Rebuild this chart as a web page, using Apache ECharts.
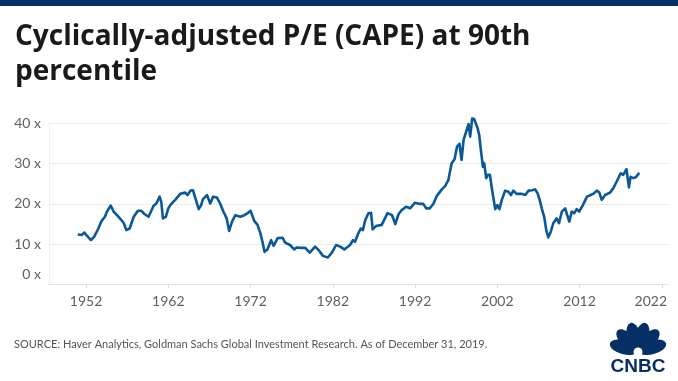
<!DOCTYPE html>
<html>
<head>
<meta charset="utf-8">
<script src="https://cdn.jsdelivr.net/npm/echarts@6/dist/echarts.min.js"></script>
<style>
html,body{margin:0;padding:0;background:#fff;}
#chart{width:678px;height:381px;}
</style>
</head>
<body>
<div id="chart"></div>
<script>
// ---- data ----
const years = [
1951.0,1951.5,1951.8,1952.1,1952.6,1953.0,1953.5,1953.9,1954.3,1954.55,1955.0,1955.35,1955.85,1956.3,1956.6,1956.9,1957.3,1957.8,1958.3,1958.7,1959.1,1959.6,1959.8,1960.2,1960.55,1960.95,1961.15,1961.35,1961.7,1962.0,1962.25,1962.6,1962.85,1963.45,1964.05,1964.35,1964.7,1965.0,1965.3,1965.7,1966.0,1966.2,1966.7,1967.1,1967.45,1967.9,1968.3,1968.7,1969.1,1969.4,1969.75,1970.15,1970.75,1971.25,1971.65,1972.0,1972.2,1972.45,1972.85,1973.2,1973.45,1973.7,1974.05,1974.5,1974.8,1975.3,1975.9,1976.2,1976.8,1977.3,1977.6,1978.05,1978.65,1979.2,1979.85,1980.25,1980.8,1981.4,1981.9,1982.4,1982.9,1983.4,1984.1,1984.45,1984.7,1985.1,1985.4,1985.65,1985.95,1986.35,1986.65,1986.85,1987.25,1987.95,1988.65,1989.2,1989.6,1990.0,1990.4,1990.9,1991.4,1992.0,1992.6,1993.0,1993.35,1993.8,1994.25,1994.65,1995.25,1995.65,1996.05,1996.45,1996.8,1997.1,1997.4,1997.65,1997.9,1998.2,1998.5,1998.7,1998.95,1999.2,1999.6,1999.8,2000.0,2000.25,2000.4,2000.65,2000.85,2001.1,2001.4,2001.75,2002.0,2002.25,2002.55,2002.95,2003.35,2003.65,2003.95,2004.35,2004.95,2005.4,2005.8,2006.2,2006.6,2006.9,2007.15,2007.4,2007.7,2007.95,2008.2,2008.5,2008.8,2009.2,2009.5,2009.85,2010.25,2010.5,2010.75,2011.05,2011.35,2011.65,2011.95,2012.4,2012.9,2013.35,2013.75,2014.1,2014.4,2014.7,2015.1,2015.7,2016.1,2016.5,2017.0,2017.3,2017.7,2018.0,2018.2,2018.55,2018.85,2019.25
];
const cape = [
12.4,12.3,12.9,12.1,11.0,11.9,13.9,15.8,16.8,18.1,19.6,18.1,17.0,16.0,15.2,13.5,13.9,16.8,18.3,18.3,17.5,16.8,17.7,19.5,20.1,21.8,20.5,16.4,16.8,18.9,19.7,20.5,21.0,22.5,22.8,22.2,23.3,23.4,21.4,18.7,19.7,21.1,22.2,20.1,21.8,21.6,20.1,18.1,16.4,13.3,15.6,17.2,16.8,17.2,17.7,18.3,17.2,15.8,14.8,12.7,10.6,8.1,8.7,11.0,9.6,11.5,11.6,10.4,9.8,8.7,9.2,9.1,9.1,7.9,9.4,8.6,7.1,6.7,7.9,9.8,9.4,8.7,9.8,11.0,10.6,12.7,13.9,13.5,16.0,17.7,17.8,13.7,14.5,14.8,17.7,17.2,15.0,17.5,18.5,19.3,18.9,20.3,20.0,20.0,18.9,18.9,20.1,22.0,23.6,24.4,25.9,30.1,31.1,34.2,34.9,30.9,35.9,37.9,39.8,36.7,41.2,41.0,38.8,37.1,33.4,29.2,30.1,26.4,27.2,27.2,23.0,18.7,19.7,18.7,21.0,23.3,23.0,22.2,23.3,22.5,22.5,22.2,23.3,23.4,23.6,22.6,21.0,18.9,16.8,13.5,11.7,13.1,15.2,16.4,15.2,18.1,18.9,17.2,15.6,18.1,17.7,18.7,18.1,19.7,21.8,22.2,22.6,23.3,22.8,21.0,22.2,22.8,23.9,25.5,27.6,27.2,28.6,24.1,26.7,26.4,26.6,27.7
];
const xTickYears = [1952,1962,1972,1982,1992,2002,2012,2022];
const yTickValues = [0,10,20,30,40];
const titleText = 'Cyclically-adjusted P/E (CAPE) at 90th\npercentile';
const sourceText = 'SOURCE: Haver Analytics, Goldman Sachs Global Investment Research. As of December 31, 2019.';

const seriesData = years.map((y,i)=>[y, cape[i]]);

const navy = '#062f66';
const FONT = 'Lato, "Open Sans", sans-serif';

// CNBC-like peacock mark
const logoGraphics = [];
const px = 638, py = 351;
[165,135,105,75,45,15].forEach(th=>{
  const r = th*Math.PI/180;
  const d = 14.5;
  const cx = px + d*Math.cos(r), cy = py - d*Math.sin(r);
  logoGraphics.push({
    type:'ellipse', shape:{cx:cx, cy:cy, rx:7, ry:14.5},
    originX:cx, originY:cy, rotation:(th-90)*Math.PI/180,
    style:{fill:navy}, z:10
  });
});
logoGraphics.push({type:'circle', shape:{cx:px, cy:py+1, r:4.5}, style:{fill:'#fff'}, z:11});
logoGraphics.push({type:'text', x:px, y:367, style:{text:'CNBC', fill:navy, font:'bold 19px "Liberation Sans", Arial, sans-serif', align:'center', verticalAlign:'middle'}, z:11});

const chart = echarts.init(document.getElementById('chart'), null, {renderer:'canvas'});
chart.setOption({
  animation:false,
  backgroundColor:'#fff',
  title:{
    text:titleText, left:10, top:15,
    textStyle:{fontFamily:'"Open Sans", Lato, sans-serif', fontWeight:'bold', fontSize:28, lineHeight:35, color:'#1a1a1a'}
  },
  grid:{left:49, right:10, top:123.3, bottom:96.5, containLabel:false},
  xAxis:{
    type:'value', min:1947.5, max:2022.75,
    axisLine:{show:true, lineStyle:{color:'#e3e3e3', width:1}},
    axisTick:{show:true, customValues:xTickYears, length:4, lineStyle:{color:'#dddddd'}},
    splitLine:{show:false},
    axisLabel:{
      customValues:xTickYears, margin:10, color:'#5f5f5f', fontFamily:FONT, fontSize:14,
      formatter:v=> v===2022 ? '{r|2022}' : String(v),
      rich:{r:{fontFamily:FONT, fontSize:14, color:'#5f5f5f', padding:[0,22,0,0]}}
    }
  },
  yAxis:{
    type:'value', min:0, max:40, interval:10,
    axisLine:{show:true, lineStyle:{color:'#efefef'}},
    axisTick:{show:false},
    splitLine:{show:true, lineStyle:{color:'#ebebeb', width:1}},
    axisLabel:{
      margin:8, color:'#5f5f5f', fontFamily:FONT, fontSize:14,
      formatter:v=> v===0 ? '{z|0 x}' : v+' x',
      rich:{z:{fontFamily:FONT, fontSize:14, color:'#5f5f5f', padding:[0,0,20,0]}}
    }
  },
  series:[{
    type:'line', data:seriesData, showSymbol:false, clip:false,
    lineStyle:{color:'#0a5896', width:2.6, join:'round'},
    itemStyle:{color:'#0a5896'}
  }],
  graphic:[
    {type:'rect', left:0, top:0, shape:{width:678, height:6}, style:{fill:navy}},
    {type:'text', left:14, top:339, style:{text:sourceText, fill:'#555', font:'11px ' + FONT}},
    ...logoGraphics
  ]
});
</script>
</body>
</html>
